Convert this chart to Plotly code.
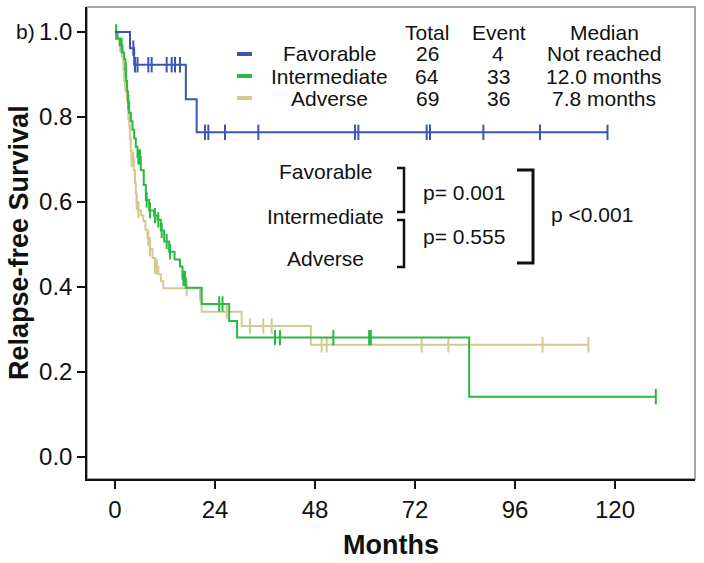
import plotly.graph_objects as go

# ---------------- data ----------------
groups = ["Favorable", "Intermediate", "Adverse"]
totals = [26, 64, 69]
events = [4, 33, 36]
medians = ["Not reached", "12.0 months", "7.8 months"]
colors = ["#3a55b4", "#2cb845", "#d4ca90"]

fav_t = [3.6, 4.6, 17.0, 19.6]
fav_s = [0.962, 0.923, 0.842, 0.764]
fav_cens = [4.4, 4.8, 5.4, 8.0, 8.8, 12.4, 13.6, 14.4, 15.6, 21.6, 22.4, 26.4,
            34.4, 57.6, 58.4, 74.8, 75.6, 88.4, 102.0, 118.2]
fav_end = 118.2

int_t = [0.6, 1.2, 1.8, 2.2, 2.5, 2.7, 2.9, 3.1, 3.4, 3.8, 4.2, 4.6, 5.0, 5.4,
         6.2, 6.9, 7.4, 8.2, 9.4, 10.2, 11.0, 11.8, 13.0, 14.3, 15.6, 16.2,
         17.0, 20.8, 27.4, 29.3, 85.0]
int_s = [0.984, 0.968, 0.952, 0.936, 0.91, 0.885, 0.86, 0.835, 0.81, 0.79,
         0.77, 0.75, 0.73, 0.706, 0.675, 0.64, 0.605, 0.58, 0.568, 0.558,
         0.533, 0.507, 0.483, 0.465, 0.448, 0.42, 0.398, 0.36, 0.32, 0.281,
         0.142]
int_cens = [0.3, 1.6, 2.6, 3.2, 5.6, 6.0, 7.6, 8.4, 9.6, 10.4, 11.2, 12.4,
            13.2, 16.4, 16.8, 25.0, 25.8, 38.4, 39.6, 52.4, 61.0, 61.4, 129.8]
int_end = 129.8

adv_t = [0.6, 1.0, 1.4, 1.7, 2.0, 2.2, 2.5, 2.9, 3.2, 3.4, 3.6, 3.8, 4.0, 4.5,
         4.8, 5.0, 5.2, 5.6, 6.2, 6.8, 7.3, 7.8, 8.4, 9.0, 9.6, 10.4, 11.0,
         11.6, 20.4, 20.8, 30.4, 47.0]
adv_s = [0.986, 0.971, 0.957, 0.942, 0.913, 0.884, 0.862, 0.84, 0.81, 0.78,
         0.75, 0.72, 0.70, 0.675, 0.645, 0.62, 0.60, 0.58, 0.568, 0.555, 0.535,
         0.515, 0.49, 0.468, 0.448, 0.43, 0.414, 0.397, 0.37, 0.342, 0.308,
         0.264]
adv_cens = [0.2, 1.2, 2.4, 2.8, 3.2, 4.0, 4.4, 5.2, 5.6, 8.0, 8.4, 9.6, 10.0,
            17.2, 26.8, 32.4, 35.6, 37.6, 49.6, 50.8, 73.6, 80.0, 102.6, 113.6]
adv_end = 113.6

x_ticks = [0, 24, 48, 72, 96, 120]
y_ticks = [0.0, 0.2, 0.4, 0.6, 0.8, 1.0]
y_ticklabels = ["0.0", "0.2", "0.4", "0.6", "0.8", "1.0"]

series = [
    (fav_t, fav_s, fav_cens, fav_end),
    (int_t, int_s, int_cens, int_end),
    (adv_t, adv_s, adv_cens, adv_end),
]

# ---------------- figure ----------------
FONT = "Arial, 'Liberation Sans', sans-serif"
W, H = 704, 563
L, R, T, B = 87, 695, 7, 479


def px(x):
    return (x - L) / (R - L)


def py(y):
    return (B - y) / (B - T)


def surv_at(times, surv, c):
    val = 1.0
    for t, s in zip(times, surv):
        if t <= c:
            val = s
    return val


fig = go.Figure()
# draw adverse first, then intermediate, then favorable on top
for idx in [2, 1, 0]:
    times, surv, cens, end = series[idx]
    xs = [0] + times + [end]
    ys = [1.0] + surv + [surv[-1]]
    fig.add_trace(go.Scatter(x=xs, y=ys, mode="lines", line_shape="hv",
                             line=dict(color=colors[idx], width=2),
                             showlegend=False, hoverinfo="skip"))
    fig.add_trace(go.Scatter(x=cens, y=[surv_at(times, surv, c) for c in cens],
                             mode="markers",
                             marker=dict(symbol="line-ns", size=11,
                                         line=dict(color=colors[idx], width=2)),
                             showlegend=False, hoverinfo="skip"))

annotations = []
shapes = []

# frame (top/right gray)
shapes.append(dict(type="rect", xref="paper", yref="paper", x0=0, x1=1, y0=0, y1=1,
                   line=dict(color="#8a8a8a", width=1.5), layer="below"))


def note(x, y, text, size=21, bold=False, angle=0):
    t = f"<b>{text}</b>" if bold else text
    annotations.append(dict(x=px(x), y=py(y), text=t, showarrow=False,
                            xref="paper", yref="paper", textangle=angle,
                            font=dict(family=FONT, size=size, color="#111"),
                            xanchor="center", yanchor="middle"))


# custom legend table
note(427, 33, "Total")
note(499, 33, "Event")
note(604, 33, "Median")
rows_y = [54, 76, 98]
for i, g in enumerate(groups):
    yy = py(rows_y[i])
    shapes.append(dict(type="line", xref="paper", yref="paper", x0=px(237), x1=px(252),
                       y0=yy, y1=yy, line=dict(color=colors[i], width=4)))
    note(329, rows_y[i], g)
    note(427, rows_y[i], str(totals[i]))
    note(498, rows_y[i], str(events[i]))
    note(604, rows_y[i], medians[i])

# comparison brackets
for g, yv in zip(groups, [172, 216, 258]):
    note(325, yv, g)
note(464, 193, "p= 0.001")
note(464, 236, "p= 0.555")
note(592, 214, "p <0.001")


def bracket(x0, x1, y0, y1, w):
    p = f"M {px(x0)},{py(y0)} L {px(x1)},{py(y0)} L {px(x1)},{py(y1)} L {px(x0)},{py(y1)}"
    return dict(type="path", xref="paper", yref="paper", path=p,
                line=dict(color="#111", width=w))


shapes.append(bracket(397, 404, 168, 212, 2.5))
shapes.append(bracket(397, 404, 220, 267, 2.5))
shapes.append(bracket(517, 533, 170, 263, 3))

# panel label and axis titles
note(25, 32, "b)", size=21)
note(391, 545, "Months", size=27, bold=True)
note(19, 243, "Relapse-free Survival", size=27, bold=True, angle=-90)

x0r = (L - 115) / 4.1667
x1r = (R - 115) / 4.1667
y0r = (457 - B) / 425.0
y1r = (457 - T) / 425.0

fig.update_layout(
    width=W, height=H,
    margin=dict(l=L, r=W - R, t=T, b=H - B, pad=0),
    paper_bgcolor="white", plot_bgcolor="white",
    showlegend=False,
    font=dict(family=FONT, color="#111"),
    xaxis=dict(range=[x0r, x1r], tickvals=x_ticks, ticks="outside", ticklen=8,
               tickwidth=1.5, tickcolor="#111", showgrid=False, zeroline=False,
               showline=True, linecolor="#111", linewidth=1.5, automargin=False,
               tickfont=dict(family=FONT, size=24, color="#111")),
    yaxis=dict(range=[y0r, y1r], tickvals=y_ticks, ticktext=y_ticklabels,
               ticks="outside", ticklen=8, tickwidth=1.5, tickcolor="#111",
               showgrid=False, zeroline=False, showline=True, linecolor="#111",
               linewidth=1.5, automargin=False,
               tickfont=dict(family=FONT, size=24, color="#111")),
    annotations=annotations,
    shapes=shapes,
)

fig.write_html("out.html", config={"displayModeBar": False},
               post_script="document.body.style.margin='0';")
